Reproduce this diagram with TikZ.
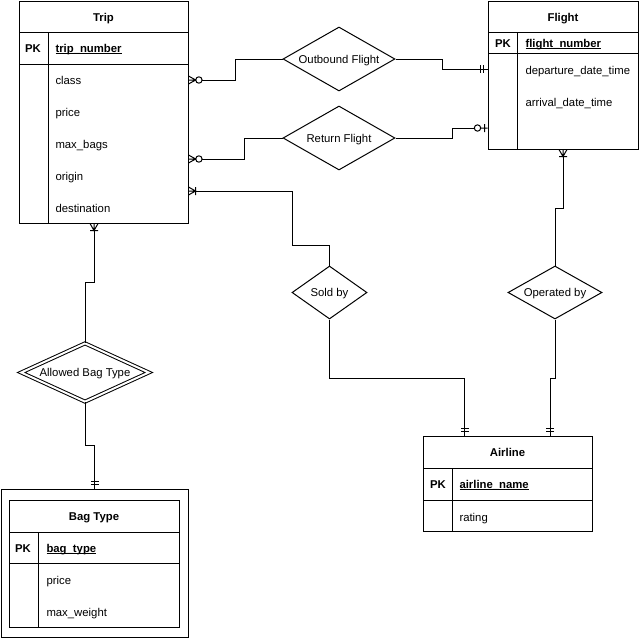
\documentclass[tikz,border=0pt]{standalone}
\usepackage{fontspec}
\setmainfont{Liberation Sans}
\usepackage{tikz}
\usetikzlibrary{positioning,shapes.geometric,calc}

\newcommand\erfont{\fontsize{8.5}{10}\selectfont}
\newcommand\ukey[1]{\setbox0\hbox{#1}\rlap{\rule[-1.6pt]{\wd0}{0.7pt}}\box0}

\pgfdeclarearrow{
  name = erZeroMany,
  setup code = {
    \pgfarrowssettipend{10.2pt}
    \pgfarrowssetlineend{0pt}
    \pgfarrowssetbackend{0pt}
    \pgfarrowsupperhullpoint{0pt}{2.4pt}
    \pgfarrowsupperhullpoint{10.2pt}{3pt}
  },
  drawing code = {
    \pgfsetlinewidth{0.75pt}
    \pgfpathcircle{\pgfpoint{2.4pt}{0pt}}{2.4pt}
    \pgfpathmoveto{\pgfpoint{4.8pt}{0pt}}
    \pgfpathlineto{\pgfpoint{10.2pt}{0pt}}
    \pgfpathmoveto{\pgfpoint{10.2pt}{3pt}}
    \pgfpathlineto{\pgfpoint{4.8pt}{0pt}}
    \pgfpathlineto{\pgfpoint{10.2pt}{-3pt}}
    \pgfusepathqstroke
  }
}
\pgfdeclarearrow{
  name = erOneMany,
  setup code = {
    \pgfarrowssettipend{5.6pt}
    \pgfarrowssetlineend{0pt}
    \pgfarrowssetbackend{0pt}
    \pgfarrowsupperhullpoint{0pt}{3pt}
    \pgfarrowsupperhullpoint{5.6pt}{3pt}
  },
  drawing code = {
    \pgfsetlinewidth{0.75pt}
    \pgfpathmoveto{\pgfpoint{0pt}{0pt}}
    \pgfpathlineto{\pgfpoint{5.6pt}{0pt}}
    \pgfpathmoveto{\pgfpoint{5.6pt}{3pt}}
    \pgfpathlineto{\pgfpoint{0.3pt}{0pt}}
    \pgfpathlineto{\pgfpoint{5.6pt}{-3pt}}
    \pgfpathmoveto{\pgfpoint{0.3pt}{3pt}}
    \pgfpathlineto{\pgfpoint{0.3pt}{-3pt}}
    \pgfusepathqstroke
  }
}
\pgfdeclarearrow{
  name = erZeroOne,
  setup code = {
    \pgfarrowssettipend{9.9pt}
    \pgfarrowssetlineend{0pt}
    \pgfarrowssetbackend{0pt}
    \pgfarrowsupperhullpoint{0pt}{2.4pt}
    \pgfarrowsupperhullpoint{9.9pt}{3pt}
  },
  drawing code = {
    \pgfsetlinewidth{0.75pt}
    \pgfpathcircle{\pgfpoint{2.4pt}{0pt}}{2.4pt}
    \pgfpathmoveto{\pgfpoint{4.8pt}{0pt}}
    \pgfpathlineto{\pgfpoint{9.9pt}{0pt}}
    \pgfpathmoveto{\pgfpoint{7.65pt}{3pt}}
    \pgfpathlineto{\pgfpoint{7.65pt}{-3pt}}
    \pgfusepathqstroke
  }
}
\pgfdeclarearrow{
  name = erOneOne,
  setup code = {
    \pgfarrowssettipend{6pt}
    \pgfarrowssetlineend{0pt}
    \pgfarrowssetbackend{0pt}
    \pgfarrowsupperhullpoint{0pt}{3pt}
    \pgfarrowsupperhullpoint{6pt}{3pt}
  },
  drawing code = {
    \pgfsetlinewidth{0.75pt}
    \pgfpathmoveto{\pgfpoint{0pt}{0pt}}
    \pgfpathlineto{\pgfpoint{6pt}{0pt}}
    \pgfpathmoveto{\pgfpoint{3pt}{3pt}}
    \pgfpathlineto{\pgfpoint{3pt}{-3pt}}
    \pgfpathmoveto{\pgfpoint{0.4pt}{3pt}}
    \pgfpathlineto{\pgfpoint{0.4pt}{-3pt}}
    \pgfusepathqstroke
  }
}

\tikzset{
  entity/.style={rectangle,draw,line width=0.75pt,inner sep=0pt},
  rel/.style={diamond,draw,line width=0.75pt,inner sep=0pt,fill=white},
  etitle/.style={font=\erfont\bfseries},
  pklabel/.style={font=\erfont\bfseries},
  keyattr/.style={anchor=west,font=\erfont\bfseries},
  attr/.style={anchor=west},
  link/.style={draw,line width=0.75pt}
}

\begin{document}
\begin{tikzpicture}[x=0.75pt,y=-0.75pt,line width=0.75pt,
  every node/.style={font=\erfont,inner sep=0pt,text height=8pt,text depth=1.9pt}]
\useasboundingbox (0,0) rectangle (640,640);

% entities
\node[entity,minimum width=126.75pt,minimum height=166.5pt] (trip) at (103.5,112) {};
\draw (19,32) -- (188,32) (19,64) -- (188,64) (48,32) -- (48,223);
\node[etitle] (trip-title) at (103.5,17) {Trip};
\node[pklabel] (trip-pk) at (33,48) {PK};
\node[keyattr] (trip-key) at (55,48) {\ukey{trip\_number}};
\foreach \t [count=\i] in {class,price,max\_bags,origin,destination}
  \node[attr] (trip-\i) at (55,48+32*\i) {\t};

\node[entity,minimum width=112.5pt,minimum height=111pt] (flight) at (563,75) {};
\draw (488,32) -- (638,32) (488,53) -- (638,53) (517,32) -- (517,149);
\node[etitle] (flight-title) at (563,17) {Flight};
\node[pklabel] (flight-pk) at (503,43) {PK};
\node[keyattr] (flight-key) at (525,43) {\ukey{flight\_number}};
\node[attr] (flight-1) at (525,70) {departure\_date\_time};
\node[attr] (flight-2) at (525,102) {arrival\_date\_time};

\node[entity,minimum width=126.75pt,minimum height=71.25pt] (airline) at (507.5,483.5) {};
\draw (423,468) -- (592,468) (423,500) -- (592,500) (452,468) -- (452,531);
\node[etitle] (airline-title) at (507.5,452) {Airline};
\node[pklabel] (airline-pk) at (438,484) {PK};
\node[keyattr] (airline-key) at (459,484) {\ukey{airline\_name}};
\node[attr] (airline-1) at (459,517) {rating};

\node[entity,minimum width=140.25pt,minimum height=111pt] (bagframe) at (94.5,563) {};
\node[entity,minimum width=127.5pt,minimum height=95.25pt] (bag) at (94,563.5) {};
\draw (9,532) -- (179,532) (9,563) -- (179,563) (38,532) -- (38,627);
\node[etitle] (bag-title) at (94,516) {Bag Type};
\node[pklabel] (bag-pk) at (23,548) {PK};
\node[keyattr] (bag-key) at (46,548) {\ukey{bag\_type}};
\node[attr] (bag-1) at (46,580) {price};
\node[attr] (bag-2) at (46,612) {max\_weight};

% relationships
\node[rel,aspect=1.75,minimum width=84pt,minimum height=48pt] (outb) at (339,59) {Outbound Flight};
\node[rel,aspect=1.75,minimum width=84pt,minimum height=48pt] (ret) at (339,138) {Return Flight};
\node[rel,aspect=1.42,minimum width=56.25pt,minimum height=39.75pt] (sold) at (329.5,292.5) {Sold by};
\node[rel,aspect=1.77,minimum width=70.5pt,minimum height=39.75pt] (oper) at (555,292.5) {Operated by};
\node[rel,double,double distance=1.5pt,aspect=2.18,minimum width=96pt,minimum height=44pt] (abt) at (85,372.5) {Allowed Bag Type};

% connectors
\draw[link,erZeroMany-] ([yshift=24pt]trip.east) -- ++(47,0) |- (outb.west);
\draw[link,-erOneOne] (outb.east) -- ++(47,0) |- ([yshift=4.5pt]flight.west);
\draw[link,erZeroMany-] ([yshift=-35.25pt]trip.east) -- ++(56,0) |- (ret.west);
\draw[link,-erZeroOne] (ret.east) -- ++(57,0) |- ([yshift=-39.75pt]flight.west);
\draw[link,erOneMany-] ([yshift=-59.25pt]trip.east) -- ++(104,0) -- ++(0,54) -| (sold.north);
\draw[link,-erOneOne] (sold.south) -- ++(0,59) -| ([xshift=-31.9pt]airline.north);
\draw[link,erOneMany-] (flight.south) -- ++(0,59) -| (oper.north);
\draw[link,-erOneOne] (oper.south) -- ++(0,59) -| ([xshift=31.9pt]airline.north);
\draw[link,erOneMany-] ([xshift=-7.1pt]trip.south) -- ++(0,59) -| (abt.north);
\draw[link,-erOneOne] (abt.south) -- ++(0,43) -| (bagframe.north);
\end{tikzpicture}
\end{document}
